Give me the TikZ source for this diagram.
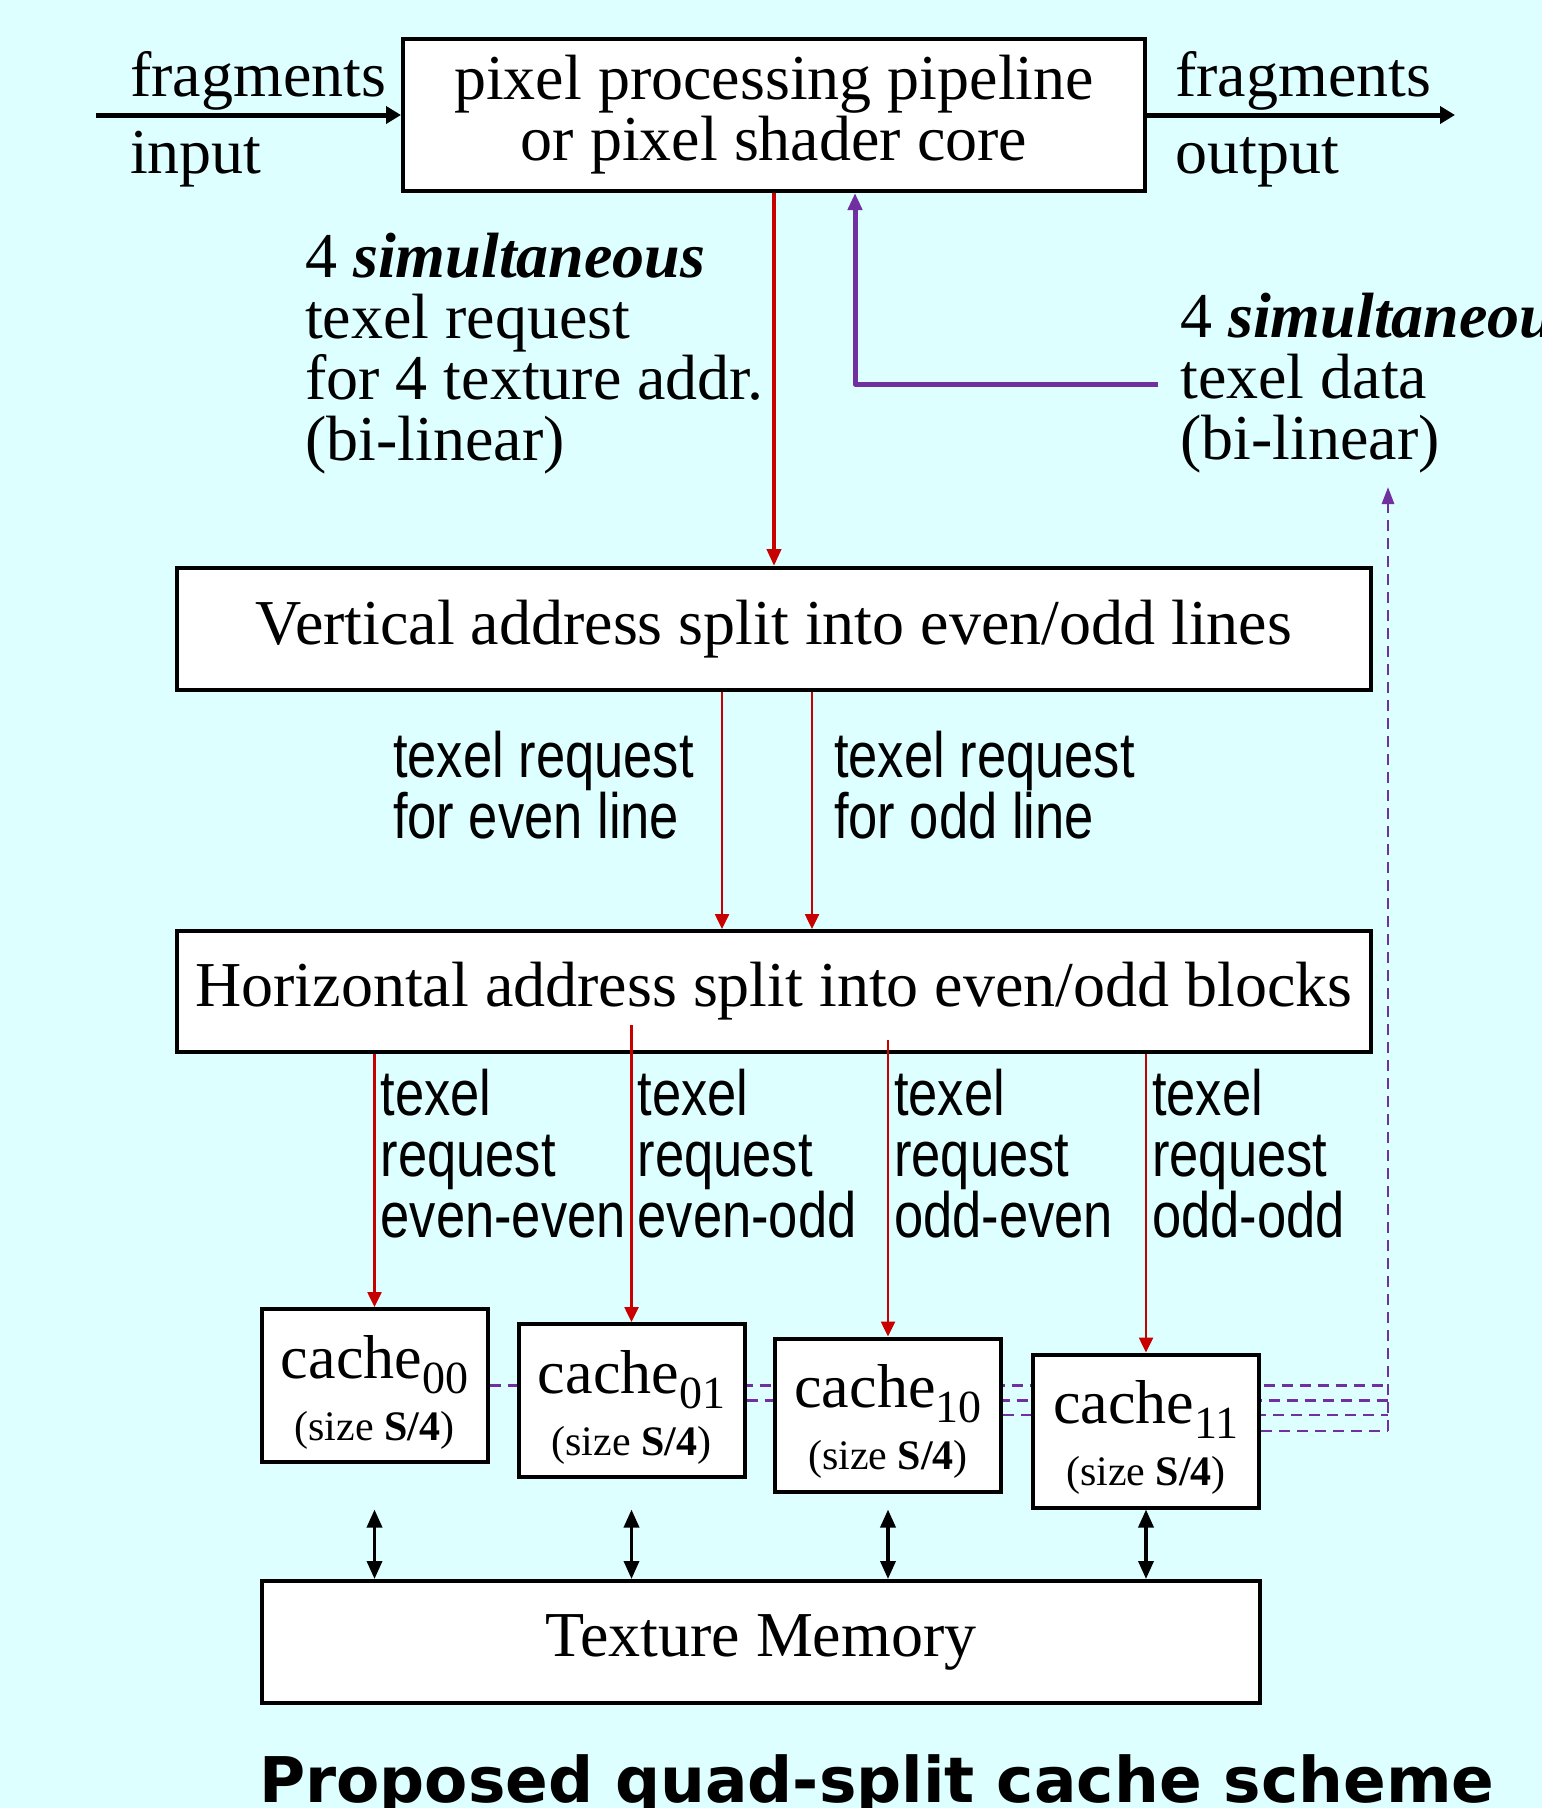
\documentclass[tikz,border=0pt]{standalone}
\usepackage{fontspec}
\setmainfont{Liberation Serif}
\newfontfamily\narrowsans[FakeStretch=0.82]{Liberation Sans}
\newfontfamily\titlefont{DejaVu Sans}
\usetikzlibrary{arrows.meta,calc}
\pgfdeclarelayer{bgl}
\pgfdeclarelayer{lines}
\pgfsetlayers{bgl,lines,main}
\definecolor{bgcyan}{RGB}{221,255,255}
\definecolor{reqred}{RGB}{200,0,0}
\definecolor{datapurple}{RGB}{112,48,160}
\begin{document}
\begin{tikzpicture}[x=1pt,y=-1pt,
  blockbox/.style={draw=black,fill=white,line width=4pt,inner sep=0pt,
    font=\fontsize{64}{61}\selectfont,align=center},
  cachebox/.style={draw=black,fill=white,line width=4pt,inner sep=0pt,
    minimum width=226pt,minimum height=153pt},
  seriftext/.style={inner sep=0pt,font=\fontsize{64}{61}\selectfont,text width=600pt,align=flush left,anchor=base west},
  narrowtext/.style={inner sep=0pt,font=\narrowsans\fontsize{64}{61}\selectfont,text width=400pt,align=flush left,anchor=base west},
  cachename/.style={inner sep=0pt,font=\fontsize{62}{62}\selectfont,anchor=base},
  cachesize/.style={inner sep=0pt,font=\fontsize{42}{42}\selectfont,anchor=base},
  blackarrow/.style={line width=5pt,-{Triangle[length=15pt,width=17pt]}},
  redmain/.style={reqred,line width=4pt,-{Triangle[length=17pt,width=14pt]}},
  purplemain/.style={datapurple,line width=5pt,line join=round,-{Triangle[length=17pt,width=14pt]}},
  redthin/.style={reqred,line width=2.5pt,-{Triangle[length=15pt,width=14pt]}},
  dashp/.style={datapurple,line width=2.8pt,dash pattern=on 11pt off 7pt},
  dblarrow/.style={line width=3.5pt,{Triangle[length=18pt,width=15pt]}-{Triangle[length=18pt,width=15pt]}}
]
\useasboundingbox (0,0) rectangle (1542,1808);
\begin{pgfonlayer}{bgl}
\fill[bgcyan] (0,0) rectangle (1542,1808);
\end{pgfonlayer}

% boxes
\node[blockbox,minimum width=742pt,minimum height=152pt] (top) at (774,115)
  {pixel processing pipeline\\or pixel shader core};
\node[blockbox,minimum width=1194pt,minimum height=122pt] (vbox) at (774,629)
  {Vertical address split into even/odd lines};
\node[blockbox,minimum width=1194pt,minimum height=121pt] (hbox) at (774,991.5)
  {Horizontal address split into even/odd blocks};
\node[cachebox] (c00) at (374.5,1385.5) {};
\node[cachebox] (c01) at (631.5,1400.5) {};
\node[cachebox] (c10) at (888,1415) {};
\node[cachebox] (c11) at (1146,1431) {};
\node[blockbox,minimum width=998pt,minimum height=122pt] (tm) at (761,1642)
  {Texture Memory};

% cache texts
\node[cachename] (c00n) at ([yshift=-71pt]c00.north) {cache\raisebox{-15pt}{\fontsize{46}{46}\selectfont 00}};
\node[cachesize] (c00s) at ([yshift=-133pt]c00.north) {(size \textbf{S/4})};
\node[cachename] (c01n) at ([yshift=-71pt]c01.north) {cache\raisebox{-15pt}{\fontsize{46}{46}\selectfont 01}};
\node[cachesize] (c01s) at ([yshift=-133pt]c01.north) {(size \textbf{S/4})};
\node[cachename] (c10n) at ([yshift=-71pt]c10.north) {cache\raisebox{-15pt}{\fontsize{46}{46}\selectfont 10}};
\node[cachesize] (c10s) at ([yshift=-133pt]c10.north) {(size \textbf{S/4})};
\node[cachename] (c11n) at ([yshift=-71pt]c11.north) {cache\raisebox{-15pt}{\fontsize{46}{46}\selectfont 11}};
\node[cachesize] (c11s) at ([yshift=-133pt]c11.north) {(size \textbf{S/4})};

% labels
\node[seriftext] (lfrag) at (130,96) {fragments};
\node[seriftext] (linput) at (130,173) {input};
\node[seriftext] (rfrag) at (1175,96) {fragments};
\node[seriftext] (routput) at (1175,173) {output};
\node[seriftext] (reqlab) at (305,277)
  {4 \textbf{\textit{simultaneous}}\\texel request\\for 4 texture addr.\\(bi-linear)};
\node[seriftext] (datalab) at (1180,337)
  {4 \textbf{\textit{simultaneous}}\\texel data\\(bi-linear)};
\node[narrowtext] (evenlab) at (393,777) {texel request\\for even line};
\node[narrowtext] (oddlab) at (834,777) {texel request\\for odd line};
\node[narrowtext] (eelab) at (380.5,1115) {texel\\request\\even-even};
\node[narrowtext] (eolab) at (637.5,1115) {texel\\request\\even-odd};
\node[narrowtext] (oelab) at (894,1115) {texel\\request\\odd-even};
\node[narrowtext] (oolab) at (1152,1115) {texel\\request\\odd-odd};

% title
\node[inner sep=0pt,anchor=base west,font=\titlefont\bfseries\fontsize{63}{63}\selectfont] (title) at (259,1802)
  {Proposed quad-split cache scheme};

% connectors
\coordinate (inL) at (96,115);
\coordinate (outR) at (1455,115);
\draw[blackarrow] (inL) -- (top.west);
\draw[blackarrow] (top.east) -- (outR);
\draw[redmain] (top.south) -- (vbox.north);
\coordinate (pstart) at (1158,384);
\coordinate (pcorner) at (855,384);
\draw[purplemain] (pstart) -- (pcorner) -- (pcorner |- top.south);

\draw[redthin] ([xshift=-52pt]vbox.south) -- ([xshift=-52pt]hbox.north);
\draw[redthin] ([xshift=38pt]vbox.south) -- ([xshift=38pt]hbox.north);

\draw[redthin] (c00 |- hbox.south) -- (c00.north);
\draw[redthin] ($(c01 |- hbox.south)+(0,-29)$) -- (c01.north);
\draw[redthin] ($(c10 |- hbox.south)+(0,-14)$) -- (c10.north);
\draw[redthin] (c11 |- hbox.south) -- (c11.north);

\coordinate (dtip) at (1388,487);
\begin{pgfonlayer}{lines}
\draw[dashp] (c00.east) -- (c00.east -| dtip);
\draw[dashp] (c01.east) -- (c01.east -| dtip);
\draw[dashp] (c10.east) -- (c10.east -| dtip);
\draw[dashp] (c11.east) -- (c11.east -| dtip);
\end{pgfonlayer}
\draw[dashp,-{Triangle[length=17pt,width=12pt]}] (c11.east -| dtip) -- (dtip);

\draw[dblarrow] (c00 |- c11.south) -- (c00 |- tm.north);
\draw[dblarrow] (c01 |- c11.south) -- (c01 |- tm.north);
\draw[dblarrow] (c10 |- c11.south) -- (c10 |- tm.north);
\draw[dblarrow] (c11.south) -- (c11 |- tm.north);
\end{tikzpicture}
\end{document}
